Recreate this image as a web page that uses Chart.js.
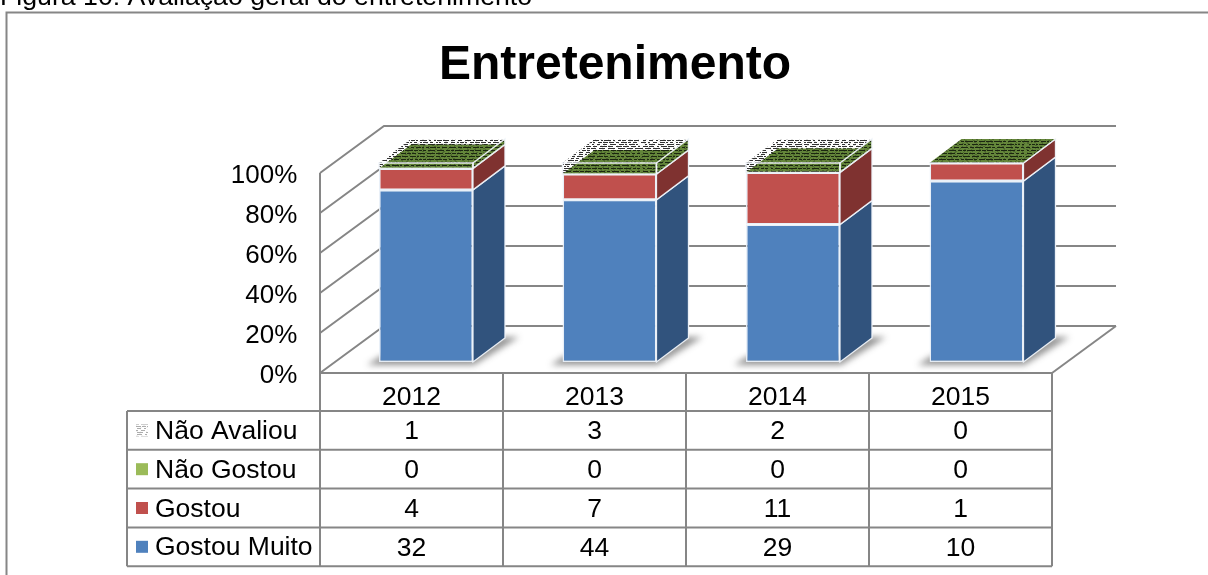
<!DOCTYPE html>
<html lang="pt">
<head>
<meta charset="utf-8">
<title>Entretenimento</title>
<style>
  html, body { margin: 0; padding: 0; background: #fff; overflow: hidden; }
  canvas { display: block; }
</style>
<script src="https://cdn.jsdelivr.net/npm/chart.js@4/dist/chart.umd.min.js"></script>
</head>
<body>
<canvas id="grafico" width="1208" height="575"></canvas>
<script>
// Survey counts per year
const categories = ['2012', '2013', '2014', '2015'];
const naoAvaliou = [1, 3, 2, 0];
const naoGostou = [0, 0, 0, 0];
const gostou = [4, 7, 11, 1];
const gostouMuito = [32, 44, 29, 10];
const percentTicks = [0, 20, 40, 60, 80, 100];
const chartTitle = 'Entretenimento';
const caption = 'Figura 10: Avaliação geral do entretenimento';

// Table rows, top to bottom, with the legend key colour of each series
const tableRows = [
  { label: 'Não Avaliou', values: naoAvaliou, key: null },
  { label: 'Não Gostou', values: naoGostou, key: '#9BBB59' },
  { label: 'Gostou', values: gostou, key: '#C0504D' },
  { label: 'Gostou Muito', values: gostouMuito, key: '#4F81BD' }
];

// Each stacked segment is that series' share of the year's total
const totals = categories.map((_, i) =>
  naoAvaliou[i] + naoGostou[i] + gostou[i] + gostouMuito[i]);
const share = values => values.map((v, i) => v / totals[i] * 100);

// Box geometry for the pseudo-3D plot
const LINE = '#868686';
const WALL = { left: 320, right: 1052, dx: 64, dy: 47 };
const BAR_DEPTH = { dx: 32, dy: 24 };
const TABLE = { left: 127, columns: 320, colWidth: 183, header: 373, rowTop: 411, rowH: 38.8 };
const FONT = '"Liberation Sans", Arial, sans-serif';

// Small integer hash so the surface textures come out the same on every run
function hash(a, b) {
  let h = (a * 374761 + b * 668265) | 0;
  h = Math.imul(h ^ (h >>> 13), 127413);
  return ((h ^ (h >>> 16)) >>> 0) % 1000 / 1000;
}

// Streaky tile: rows of horizontal broken dashes over a base colour
function makeTexture(ctx, base, dark, period, run, gap, sparseAlpha) {
  const tile = document.createElement('canvas');
  tile.width = 128;
  tile.height = period * 6;
  const t = tile.getContext('2d');
  t.fillStyle = base;
  t.fillRect(0, 0, tile.width, tile.height);
  t.fillStyle = dark;
  for (let y = 0; y < tile.height; y++) {
    const dense = y % period === 0;
    t.globalAlpha = dense ? 1 : sparseAlpha;
    let x = Math.floor(hash(y, 11) * 6);
    while (x < tile.width) {
      const len = dense ? 2 + Math.floor(hash(x, y) * run) : 1 + Math.floor(hash(x, y) * 2);
      t.fillRect(x, y, len, 1);
      x += len + (dense ? 1 + Math.floor(hash(y, x) * gap) : 2 + Math.floor(hash(y, x) * 6));
    }
  }
  return ctx.createPattern(tile, 'repeat');
}

function quad(ctx, pts) {
  ctx.beginPath();
  pts.forEach((p, i) => (i ? ctx.lineTo(p[0], p[1]) : ctx.moveTo(p[0], p[1])));
  ctx.closePath();
}

function segment(ctx, pts) {
  ctx.beginPath();
  ctx.moveTo(pts[0], pts[1]);
  ctx.lineTo(pts[2], pts[3]);
  ctx.stroke();
}

// Title, caption, walls, floor, gridlines and the shadows under the bars
const backdrop = {
  id: 'backdrop',
  beforeDatasetsDraw(chart) {
    const { ctx, scales } = chart;
    const y = scales.y;
    const { left, right, dx, dy } = WALL;
    ctx.save();
    ctx.fillStyle = '#000';
    ctx.textBaseline = 'alphabetic';
    ctx.font = '26.7px ' + FONT;
    ctx.textAlign = 'left';
    ctx.fillText(caption, 0, 5);
    ctx.font = 'bold 48px ' + FONT;
    ctx.textAlign = 'center';
    ctx.fillText(chartTitle, 615, 79);

    ctx.strokeStyle = LINE;
    ctx.lineWidth = 2;
    // outer frame, open to the right and below
    ctx.beginPath();
    ctx.moveTo(6.5, 575);
    ctx.lineTo(6.5, 12.5);
    ctx.lineTo(1208, 12.5);
    ctx.stroke();

    // left wall and back wall lines at each tick
    percentTicks.forEach(v => {
      const p = y.getPixelForValue(v);
      ctx.beginPath();
      ctx.moveTo(left, p);
      ctx.lineTo(left + dx, p - dy);
      ctx.lineTo(right + dx, p - dy);
      ctx.stroke();
    });
    const base = y.getPixelForValue(0);
    const top = y.getPixelForValue(100);
    segment(ctx, [left, top, left, base]);
    segment(ctx, [right, base, right + dx, base - dy]);

    // soft floor shadows
    const blue = chart.getDatasetMeta(0).data;
    ctx.fillStyle = 'rgba(40,40,40,0.5)';
    ctx.filter = 'blur(3px)';
    blue.forEach(el => {
      const l = el.x - el.width / 2;
      const r = el.x + el.width / 2;
      const b = el.base;
      quad(ctx, [[l - 12, b + 3], [r + 1, b + 3], [r + 46, b - BAR_DEPTH.dy - 1],
                 [r + 28, b - BAR_DEPTH.dy - 1], [r, b - 6], [l + 2, b - 6]]);
      ctx.fill();
    });
    ctx.filter = 'none';
    ctx.restore();
  },

  // Side and top faces of each stacked bar
  afterDatasetsDraw(chart) {
    const { ctx } = chart;
    const green = makeTexture(ctx, '#64863A', '#1B2610', 3, 7, 2, 0.3);
    const paper = makeTexture(ctx, '#FFFFFF', '#333333', 2, 6, 3, 0.15);
    const { dx, dy } = BAR_DEPTH;
    const edge = 'rgba(240,244,250,0.95)';
    const blueMeta = chart.getDatasetMeta(0).data;
    const redMeta = chart.getDatasetMeta(1).data;
    const greenMeta = chart.getDatasetMeta(2).data;
    const noneMeta = chart.getDatasetMeta(3).data;

    const side = (el, fill) => {
      const r = el.x + el.width / 2;
      const pts = [[r, el.y], [r + dx, el.y - dy], [r + dx, el.base - dy], [r, el.base]];
      quad(ctx, pts);
      ctx.fillStyle = fill;
      ctx.fill();
      ctx.strokeStyle = edge;
      ctx.lineWidth = 1.3;
      ctx.stroke();
    };

    ctx.save();
    categories.forEach((_, i) => {
      side(blueMeta[i], '#31537D');
      side(redMeta[i], '#7F3230');

      const el = noneMeta[i];
      const l = el.x - el.width / 2;
      const r = el.x + el.width / 2;
      const topY = el.y;
      const levelY = greenMeta[i].y;
      ctx.save();
      ctx.filter = 'blur(0.6px)';
      if (naoAvaliou[i] > 0) {
        // paper-textured box for the unrated share
        ctx.fillStyle = paper;
        quad(ctx, [[l, topY], [r, topY], [r + dx, topY - dy], [l + dx, topY - dy]]);
        ctx.fill();
        ctx.fillRect(l, topY, el.width, levelY - topY);
        ctx.fillStyle = green;
        quad(ctx, [[r, topY], [r + dx, topY - dy], [r + dx, levelY - dy], [r, levelY]]);
        ctx.fill();
      }
      // top of the zero-height "Não Gostou" segment shows through
      ctx.fillStyle = green;
      quad(ctx, [[l, levelY], [r, levelY], [r + dx, levelY - dy], [l + dx, levelY - dy]]);
      ctx.fill();
      ctx.restore();

      // bright box edges
      ctx.strokeStyle = edge;
      ctx.lineWidth = 1.5;
      if (naoAvaliou[i] > 0) {
        ctx.strokeRect(l, topY, el.width, levelY - topY);
        quad(ctx, [[r, topY], [r + dx, topY - dy], [r + dx, levelY - dy], [r, levelY]]);
        ctx.stroke();
      } else {
        segment(ctx, [l, levelY, r, levelY]);
        segment(ctx, [r, levelY, r + dx, levelY - dy]);
      }
    });
    ctx.restore();

    drawTable(ctx, paper);
  }
};

// Data table below the plot, carrying the category labels and the legend keys
function drawTable(ctx, paper) {
  const { left, columns, colWidth, header, rowTop, rowH } = TABLE;
  const n = categories.length;
  const tableRight = columns + colWidth * n;
  const tableBottom = rowTop + rowH * tableRows.length;
  ctx.save();
  ctx.strokeStyle = LINE;
  ctx.lineWidth = 2;
  ctx.beginPath();
  ctx.moveTo(columns, header);
  ctx.lineTo(tableRight, header);
  for (let c = 0; c <= n; c++) {
    ctx.moveTo(columns + colWidth * c, header);
    ctx.lineTo(columns + colWidth * c, tableBottom);
  }
  for (let r = 0; r <= tableRows.length; r++) {
    ctx.moveTo(left, rowTop + rowH * r);
    ctx.lineTo(tableRight, rowTop + rowH * r);
  }
  ctx.moveTo(left, rowTop);
  ctx.lineTo(left, tableBottom);
  ctx.stroke();

  ctx.font = '26.5px ' + FONT;
  ctx.fillStyle = '#000';
  ctx.textAlign = 'center';
  ctx.textBaseline = 'alphabetic';
  categories.forEach((c, i) => {
    ctx.fillText(c, columns + colWidth * (i + 0.5), 405);
  });
  tableRows.forEach((row, r) => {
    const cy = rowTop + rowH * (r + 0.5);
    ctx.textAlign = 'left';
    ctx.fillStyle = '#000';
    ctx.fillText(row.label, 155, cy + 8.5);
    ctx.textAlign = 'center';
    row.values.forEach((v, i) => {
      ctx.fillText(String(v), columns + colWidth * (i + 0.5), cy + 9);
    });
    // legend key
    if (row.key) {
      ctx.fillStyle = row.key;
      ctx.fillRect(136, cy - 6, 12, 12);
    } else {
      ctx.save();
      ctx.globalAlpha = 0.4;
      ctx.fillStyle = paper;
      ctx.fillRect(136, cy - 6, 12, 12);
      ctx.restore();
    }
  });
  ctx.restore();
}

const faceBorder = 'rgba(232,239,248,0.95)';

new Chart(document.getElementById('grafico'), {
  type: 'bar',
  data: {
    labels: categories,
    datasets: [
      { label: 'Gostou Muito', data: share(gostouMuito), backgroundColor: '#4F81BD', borderColor: faceBorder, borderWidth: 1.5 },
      { label: 'Gostou', data: share(gostou), backgroundColor: '#C0504D', borderColor: faceBorder, borderWidth: 1.5 },
      { label: 'Não Gostou', data: share(naoGostou), backgroundColor: '#9BBB59', borderWidth: 0 },
      { label: 'Não Avaliou', data: share(naoAvaliou), backgroundColor: 'rgba(0,0,0,0)', borderWidth: 0 }
    ].map(d => ({
      ...d,
      yAxisID: 'yBars',
      barPercentage: 0.512,
      categoryPercentage: 1,
      borderSkipped: false
    }))
  },
  options: {
    responsive: false,
    animation: false,
    devicePixelRatio: 1,
    layout: {
      autoPadding: false,
      padding: { left: 0, right: 139.75, top: 127, bottom: 202 }
    },
    plugins: { legend: { display: false }, tooltip: { enabled: false }, title: { display: false } },
    scales: {
      x: { stacked: true, display: false },
      // front edge of the box: carries the percent labels
      y: {
        position: 'left',
        min: 0,
        max: 123,
        afterFit(scale) { scale.width = 334.25; },
        afterBuildTicks(scale) { scale.ticks = percentTicks.map(value => ({ value })); },
        grid: { display: false, drawTicks: false },
        border: { display: false },
        ticks: {
          padding: 37,
          labelOffset: 3,
          autoSkip: false,
          color: '#000',
          font: { family: FONT, size: 26 },
          callback: v => v + '%'
        }
      },
      // plane the bars stand on, set back from the front edge
      yBars: { stacked: true, display: false, min: -5.53, max: 118.09 }
    }
  },
  plugins: [backdrop]
});
</script>
</body>
</html>
